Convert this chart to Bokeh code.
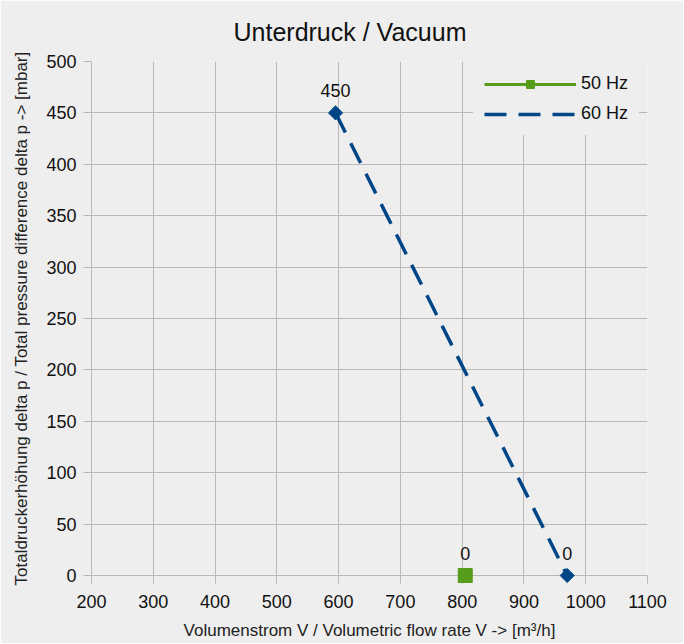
import math
from bokeh.plotting import figure
from bokeh.models import ColumnDataSource, FixedTicker, Range1d, Legend, LegendItem
from bokeh.core.properties import value
from bokeh.embed import file_html
from bokeh.resources import INLINE

# Data
flow_50 = [805]
pressure_50 = [0]
flow_60 = [595, 970]
pressure_60 = [450, 0]
x_ticks = [200, 300, 400, 500, 600, 700, 800, 900, 1000, 1100]
y_ticks = [0, 50, 100, 150, 200, 250, 300, 350, 400, 450, 500]
title_text = "Unterdruck / Vacuum"

GREEN = "#579d1c"
BLUE = "#004586"
BG = "#eeeeee"
GRID = "#b8b8b8"
FONT = "Liberation Sans"

p = figure(width=683, height=643, output_backend="svg", toolbar_location=None,
           x_range=Range1d(200, 1100), y_range=Range1d(0, 500),
           min_border_left=91, min_border_right=36, min_border_top=61, min_border_bottom=68)
p.background_fill_color = BG
p.border_fill_color = BG
p.outline_line_color = None

p.title.text = title_text
p.title.text_font = FONT
p.title.text_font_size = "25px"
p.title.text_font_style = "normal"
p.title.text_color = "#111111"
p.title.align = "left"
p.title.offset = 142
p.title.standoff = 27
p.title.vertical_align = "top"

for ax, ticks in ((p.xaxis[0], x_ticks), (p.yaxis[0], y_ticks)):
    ax.ticker = FixedTicker(ticks=ticks)
    ax.major_label_text_font = FONT
    ax.major_label_text_font_size = "18px"
    ax.major_label_text_color = "#111111"
    ax.axis_label_text_font = FONT
    ax.axis_label_text_font_size = "17px"
    ax.axis_label_text_font_style = "normal"
    ax.axis_label_text_color = "#222222"
    ax.axis_line_color = GRID
    ax.major_tick_line_color = GRID
    ax.major_tick_out = 8
    ax.major_tick_in = 0
    ax.minor_tick_line_color = None

p.xaxis.axis_label = "Volumenstrom V / Volumetric flow rate V -> [m³/h]"
p.yaxis.axis_label = "Totaldruckerhöhung delta p / Total pressure difference delta p -> [mbar]"
p.xaxis.major_label_standoff = 11
p.yaxis.major_label_standoff = 7
p.xaxis.axis_label_standoff = 10
p.yaxis.axis_label_standoff = 12

p.grid.grid_line_color = GRID
p.grid.grid_line_width = 1

src50 = ColumnDataSource(dict(x=flow_50, y=pressure_50, lbl=[str(v) for v in pressure_50]))
src60 = ColumnDataSource(dict(x=flow_60, y=pressure_60, lbl=[str(v) for v in pressure_60]))

l50 = p.line("x", "y", source=src50, line_color=GREEN, line_width=3)
m50 = p.scatter("x", "y", source=src50, marker="square", size=14, fill_color=GREEN,
                line_color=GREEN, level="overlay")
l60 = p.line("x", "y", source=src60, line_color=BLUE, line_width=3.5, line_dash="22 12")
m60 = p.scatter("x", "y", source=src60, marker="square", size=10, angle=math.pi / 4,
                fill_color=BLUE, line_color=BLUE, level="overlay")
# legend-only diamond glyph (no data)
m60_leg = p.scatter(x=[], y=[], marker="diamond", size=15, fill_color=BLUE, line_color=BLUE)

for src in (src50, src60):
    p.text("x", "y", text="lbl", source=src, text_font=value(FONT), text_font_size="18px",
           text_color="#111111", text_align="center", text_baseline="bottom", y_offset=-16,
           level="overlay")

legend = Legend(items=[LegendItem(label="50 Hz", renderers=[l50, m50]),
                       LegendItem(label="60 Hz", renderers=[l60, m60_leg])],
                location=(382, 440), margin=0, padding=10, spacing=9,
                glyph_width=92, glyph_height=20, label_standoff=5,
                label_text_font=FONT, label_text_font_size="18px", label_text_color="#111111",
                background_fill_color=BG, background_fill_alpha=1.0,
                border_line_color=BG)
p.add_layout(legend)

open("out.html", "w").write(file_html(p, INLINE))
